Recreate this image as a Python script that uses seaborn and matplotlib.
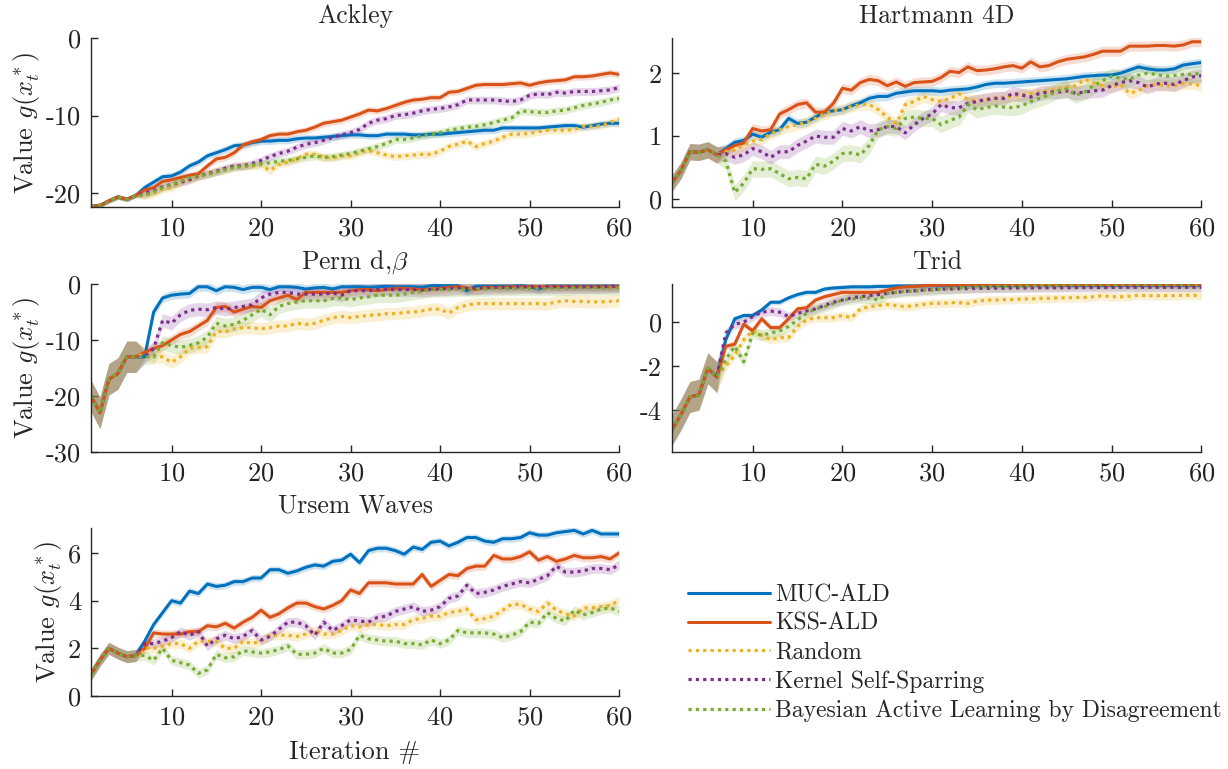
import numpy as np
import seaborn as sns
import matplotlib as mat

mat.use("Agg")

import matplotlib.pyplot as plt
from matplotlib.ticker import FuncFormatter


ITER = np.arange(1, 61)

METODOS = [
    "MUC-ALD",
    "KSS-ALD",
    "Random",
    "Kernel Self-Sparring",
    "Bayesian Active Learning by Disagreement",
]
CORES = ["#0072BD", "#D95319", "#EDB120", "#7E2F8E", "#77AC30"]

# --- Ackley ---------------------------------------------------------------
ackley_inicio = [-21.7, -21.6, -21.0, -20.5, -20.8, -20.3]
ackley_muc = [-19.3, -18.6, -17.9, -17.8, -17.3, -16.5, -16.0, -15.2, -14.8, -14.4,
              -13.9, -13.8, -13.5, -13.3, -13.3, -13.2, -13.2, -13.0, -12.9, -12.9,
              -12.8, -12.7, -12.6, -12.5, -12.5, -12.6, -12.6, -12.4, -12.4, -12.4,
              -12.5, -12.5, -12.4, -12.4, -12.3, -12.2, -12.1, -12.0, -11.9, -11.9,
              -11.6, -11.6, -11.6, -11.6, -11.6, -11.5, -11.4, -11.3, -11.3, -11.5,
              -11.3, -11.1, -11.0, -11.0]
ackley_kss_ald = [-19.6, -19.3, -18.5, -18.3, -18.0, -17.7, -17.5, -16.5, -15.6, -15.4,
                  -14.8, -13.8, -13.4, -13.1, -12.6, -12.4, -12.4, -12.1, -11.9, -11.5,
                  -11.0, -10.8, -10.6, -10.2, -9.8, -9.3, -9.4, -9.1, -8.7, -8.3,
                  -8.0, -7.9, -7.7, -7.7, -7.0, -6.9, -6.5, -6.1, -6.0, -6.0,
                  -6.0, -5.9, -5.8, -6.1, -5.8, -5.6, -5.5, -5.4, -5.0, -5.0,
                  -4.9, -4.7, -4.5, -4.7]
ackley_random = [-20.3, -20.1, -19.5, -19.3, -18.7, -18.3, -17.9, -17.5, -17.2, -17.0,
                 -16.6, -16.4, -16.5, -16.4, -17.1, -16.3, -16.0, -15.6, -15.0, -15.0,
                 -15.4, -15.5, -15.2, -15.2, -14.8, -14.5, -14.8, -15.1, -15.3, -15.2,
                 -15.1, -15.0, -15.0, -14.6, -14.0, -13.7, -13.3, -14.0, -13.6, -13.3,
                 -12.8, -12.4, -12.4, -12.3, -12.1, -11.9, -11.9, -11.9, -11.8, -11.4,
                 -11.4, -11.3, -10.9, -10.5]
ackley_kss = [-20.0, -19.7, -19.2, -18.9, -18.6, -18.3, -17.8, -17.5, -17.2, -16.8,
              -16.5, -16.5, -16.2, -15.8, -15.3, -14.9, -14.6, -14.1, -13.7, -13.5,
              -13.2, -12.8, -12.5, -12.2, -11.8, -11.0, -10.6, -10.4, -10.0, -9.9,
              -9.7, -9.4, -9.2, -9.1, -8.9, -8.6, -8.0, -8.0, -8.0, -8.0,
              -8.1, -8.2, -8.0, -7.4, -7.2, -7.3, -7.0, -7.1, -6.9, -6.9,
              -6.9, -6.8, -6.7, -6.4]
ackley_bald = [-20.3, -19.8, -19.3, -18.9, -18.5, -18.0, -17.8, -17.6, -17.3, -17.0,
               -16.7, -16.6, -16.4, -16.2, -16.1, -15.9, -15.8, -15.6, -15.4, -15.2,
               -15.4, -15.3, -15.1, -14.9, -14.6, -14.3, -14.0, -13.6, -13.1, -13.1,
               -12.9, -12.6, -12.4, -12.2, -11.9, -11.7, -11.5, -11.4, -11.2, -10.9,
               -10.6, -10.3, -9.4, -9.5, -9.6, -9.6, -9.4, -9.3, -9.0, -8.7,
               -8.5, -8.3, -8.0, -7.8]
ackley_faixa = [0.45, 0.45, 0.5, 0.5, 0.5]
ackley_faixa_inicio = 0.3

# --- Hartmann 4D ----------------------------------------------------------
hart_inicio = [0.25, 0.45, 0.75, 0.74, 0.78, 0.70]
hart_muc = [0.80, 0.90, 0.93, 1.03, 0.98, 1.06, 1.10, 1.28, 1.20, 1.22,
            1.30, 1.38, 1.40, 1.42, 1.48, 1.53, 1.60, 1.63, 1.63, 1.68,
            1.70, 1.72, 1.72, 1.72, 1.71, 1.73, 1.74, 1.75, 1.78, 1.82,
            1.84, 1.84, 1.85, 1.86, 1.87, 1.88, 1.89, 1.90, 1.91, 1.93,
            1.95, 1.96, 1.97, 1.97, 2.00, 2.05, 2.10, 2.07, 2.05, 2.05,
            2.07, 2.13, 2.15, 2.17]
hart_kss_ald = [0.78, 0.85, 0.89, 1.12, 1.08, 1.10, 1.35, 1.42, 1.50, 1.53,
                1.38, 1.38, 1.52, 1.76, 1.73, 1.85, 1.90, 1.88, 1.80, 1.86,
                1.79, 1.85, 1.86, 1.87, 1.93, 2.03, 2.01, 2.10, 2.04, 2.05,
                2.07, 2.10, 2.12, 2.08, 2.18, 2.10, 2.12, 2.18, 2.22, 2.24,
                2.26, 2.30, 2.35, 2.35, 2.35, 2.43, 2.43, 2.43, 2.44, 2.44,
                2.43, 2.45, 2.50, 2.50]
hart_random = [0.75, 0.78, 0.85, 0.92, 0.95, 1.03, 1.10, 1.15, 1.18, 1.22,
               1.28, 1.35, 1.40, 1.42, 1.47, 1.50, 1.50, 1.42, 1.30, 1.20,
               1.50, 1.55, 1.63, 1.58, 1.55, 1.60, 1.67, 1.58, 1.57, 1.58,
               1.60, 1.62, 1.63, 1.66, 1.68, 1.70, 1.72, 1.75, 1.78, 1.80,
               1.90, 1.85, 1.80, 1.78, 1.82, 1.68, 1.72, 1.80, 1.82, 1.80,
               1.80, 1.83, 1.83, 1.80]
hart_kss = [0.72, 0.66, 0.70, 0.80, 0.75, 0.66, 0.75, 0.75, 0.85, 0.92,
            1.00, 0.98, 0.98, 1.12, 1.08, 1.15, 1.08, 1.10, 1.15, 1.15,
            1.05, 1.18, 1.28, 1.35, 1.50, 1.45, 1.45, 1.52, 1.55, 1.58,
            1.60, 1.60, 1.68, 1.65, 1.62, 1.68, 1.70, 1.70, 1.72, 1.68,
            1.70, 1.72, 1.73, 1.80, 1.85, 1.88, 1.85, 1.78, 1.83, 1.84,
            1.82, 1.88, 1.94, 1.96]
hart_bald = [0.60, 0.10, 0.25, 0.48, 0.47, 0.48, 0.40, 0.32, 0.34, 0.32,
             0.55, 0.52, 0.60, 0.72, 0.73, 0.70, 0.85, 1.10, 1.15, 1.12,
             1.28, 1.30, 1.28, 1.28, 1.18, 1.25, 1.30, 1.50, 1.42, 1.45,
             1.48, 1.46, 1.45, 1.48, 1.55, 1.60, 1.65, 1.72, 1.75, 1.65,
             1.70, 1.80, 1.88, 1.95, 1.92, 1.90, 1.97, 2.00, 1.98, 1.95,
             1.96, 1.98, 1.98, 2.00]
hart_faixa = [0.07, 0.08, 0.09, 0.11, 0.13]
hart_faixa_inicio = 0.13

# --- Perm d,beta ----------------------------------------------------------
perm_inicio = [-20.0, -23.0, -17.0, -16.0, -13.0, -13.0]
perm_muc = [-13.0, -5.0, -2.5, -2.0, -1.8, -1.7, -0.5, -0.5, -1.2, -0.5,
            -0.6, -1.0, -0.6, -0.6, -1.0, -0.5, -0.5, -0.6, -0.9, -0.7,
            -0.6, -0.9, -0.5, -0.5, -0.5, -0.6, -0.5, -0.4, -0.5, -0.5,
            -0.5, -0.6, -0.3, -0.3, -0.3, -0.3, -1.2, -0.4, -0.4, -0.4,
            -0.4, -0.4, -0.3, -0.5, -0.9, -0.4, -0.4, -0.4, -0.4, -0.4,
            -0.4, -0.4, -0.4, -0.4]
perm_kss_ald = [-12.2, -11.5, -11.0, -10.0, -9.0, -8.5, -7.5, -6.5, -4.2, -4.0,
                -5.0, -4.5, -4.0, -4.2, -3.0, -2.5, -2.0, -2.8, -1.5, -1.5,
                -1.5, -1.5, -1.5, -1.2, -1.0, -1.0, -1.2, -1.0, -0.8, -0.8,
                -0.9, -1.0, -0.9, -0.8, -0.6, -0.5, -0.7, -1.0, -0.6, -0.6,
                -0.6, -0.5, -0.5, -0.5, -0.5, -0.5, -0.5, -0.5, -0.5, -0.5,
                -0.5, -0.5, -0.5, -0.5]
perm_random = [-12.5, -13.0, -13.0, -14.0, -13.0, -11.5, -11.3, -11.2, -8.5, -8.5,
               -8.0, -7.8, -7.8, -8.0, -7.8, -7.5, -7.5, -7.0, -7.2, -7.0,
               -6.5, -6.0, -5.8, -6.0, -5.8, -5.6, -5.5, -5.3, -5.3, -5.1,
               -5.0, -4.8, -4.5, -4.5, -5.2, -4.2, -3.8, -3.5, -3.5, -3.5,
               -3.5, -3.5, -3.5, -3.5, -3.5, -3.6, -3.2, -3.0, -3.1, -3.1,
               -3.2, -3.2, -3.1, -3.0]
perm_kss = [-13.0, -11.5, -6.5, -7.0, -5.5, -4.7, -4.5, -4.6, -4.2, -4.5,
            -4.2, -4.0, -3.7, -2.5, -1.8, -1.5, -1.5, -1.8, -1.8, -1.8,
            -1.8, -1.6, -2.0, -1.2, -1.2, -1.2, -1.0, -0.9, -1.0, -1.0,
            -1.0, -1.1, -1.0, -0.9, -0.8, -0.7, -0.8, -0.7, -0.7, -0.6,
            -0.6, -0.6, -0.5, -0.5, -0.5, -0.5, -0.5, -0.5, -0.5, -0.5,
            -0.5, -0.5, -0.4, -0.4]
perm_bald = [-13.0, -13.0, -10.5, -11.0, -11.3, -11.0, -10.5, -9.5, -7.0, -7.5,
             -7.2, -6.5, -5.5, -4.5, -5.5, -4.0, -3.5, -3.2, -3.0, -3.0,
             -3.0, -2.6, -2.5, -2.8, -2.5, -2.3, -2.0, -2.0, -2.0, -1.8,
             -1.5, -1.3, -1.0, -1.0, -1.0, -0.9, -0.9, -0.9, -0.9, -0.8,
             -0.8, -0.8, -0.8, -0.8, -0.8, -0.8, -0.8, -0.8, -0.7, -0.7,
             -0.7, -0.7, -0.7, -0.7]
perm_faixa = [0.8, 0.9, 1.1, 1.2, 1.3]
perm_faixa_inicio = 2.8

# --- Trid -----------------------------------------------------------------
trid_inicio = [-4.9, -4.2, -3.4, -3.3, -2.1, -2.5]
trid_muc = [-0.8, 0.15, 0.30, 0.30, 0.55, 0.90, 0.90, 1.10, 1.25, 1.35,
            1.35, 1.50, 1.55, 1.57, 1.60, 1.60, 1.60, 1.62, 1.62, 1.64,
            1.64, 1.64, 1.65, 1.65, 1.65, 1.65, 1.66, 1.66, 1.66, 1.66,
            1.66, 1.66, 1.66, 1.67, 1.67, 1.67, 1.67, 1.67, 1.67, 1.67,
            1.67, 1.67, 1.67, 1.67, 1.67, 1.67, 1.67, 1.67, 1.67, 1.67,
            1.67, 1.67, 1.67, 1.67]
trid_kss_ald = [-1.1, -1.0, -0.1, -0.4, 0.15, -0.25, -0.25, 0.15, 0.60, 0.65,
                1.00, 1.15, 1.25, 1.35, 1.35, 1.35, 1.35, 1.35, 1.45, 1.55,
                1.60, 1.62, 1.65, 1.67, 1.68, 1.68, 1.69, 1.69, 1.69, 1.70,
                1.70, 1.70, 1.70, 1.70, 1.70, 1.70, 1.70, 1.70, 1.70, 1.70,
                1.70, 1.70, 1.70, 1.70, 1.70, 1.70, 1.70, 1.70, 1.70, 1.70,
                1.70, 1.70, 1.70, 1.70]
trid_random = [-2.0, -1.5, -0.8, -0.4, -0.6, -0.8, -0.7, -0.7, -0.2, 0.1,
               0.2, 0.2, 0.2, 0.3, 0.2, 0.6, 0.7, 0.75, 0.8, 0.75,
               0.70, 0.75, 0.80, 0.85, 0.85, 0.88, 0.88, 0.85, 0.95, 1.00,
               1.00, 1.02, 1.02, 1.05, 1.05, 1.08, 1.08, 1.10, 1.10, 1.12,
               1.12, 1.15, 1.20, 1.15, 1.15, 1.18, 1.22, 1.20, 1.20, 1.20,
               1.20, 1.22, 1.22, 1.20]
trid_kss = [-0.5, -0.1, 0.0, 0.25, 0.45, 0.50, 0.45, 0.25, 0.40, 0.50,
            0.60, 0.75, 0.90, 1.00, 1.10, 1.15, 1.20, 1.25, 1.30, 1.35,
            1.40, 1.42, 1.45, 1.48, 1.50, 1.50, 1.52, 1.52, 1.53, 1.53,
            1.54, 1.54, 1.55, 1.55, 1.55, 1.56, 1.56, 1.56, 1.56, 1.57,
            1.57, 1.57, 1.57, 1.57, 1.58, 1.58, 1.58, 1.58, 1.58, 1.58,
            1.58, 1.58, 1.58, 1.58]
trid_bald = [-1.7, -1.1, -1.8, -0.5, -0.6, -0.5, -0.4, -0.2, 0.1, 0.4,
             0.6, 0.7, 0.85, 1.00, 1.05, 1.10, 1.10, 1.00, 1.30, 1.35,
             1.40, 1.40, 1.45, 1.45, 1.50, 1.52, 1.55, 1.58, 1.60, 1.60,
             1.62, 1.62, 1.63, 1.64, 1.65, 1.66, 1.67, 1.68, 1.68, 1.70,
             1.70, 1.70, 1.70, 1.70, 1.70, 1.70, 1.70, 1.70, 1.70, 1.70,
             1.70, 1.70, 1.70, 1.70]
trid_faixa = [0.12, 0.15, 0.2, 0.2, 0.25]
trid_faixa_inicio = 0.7

# --- Ursem Waves ----------------------------------------------------------
ursem_inicio = [0.9, 1.5, 2.0, 1.8, 1.65, 1.7]
ursem_muc = [2.3, 3.0, 3.5, 4.0, 3.9, 4.4, 4.3, 4.7, 4.6, 4.65,
             4.8, 4.8, 4.95, 4.95, 5.3, 5.3, 5.15, 5.25, 5.4, 5.5,
             5.45, 5.65, 5.7, 5.95, 5.6, 6.1, 6.2, 6.2, 6.1, 5.95,
             6.25, 6.15, 6.45, 6.5, 6.3, 6.45, 6.65, 6.65, 6.5, 6.45,
             6.6, 6.6, 6.65, 6.85, 6.75, 6.75, 6.85, 6.9, 6.95, 6.8,
             6.95, 6.8, 6.8, 6.8]
ursem_kss_ald = [2.0, 2.65, 2.6, 2.6, 2.6, 2.7, 2.7, 2.95, 2.9, 3.05,
                 2.85, 3.1, 3.3, 3.6, 3.3, 3.45, 3.7, 3.9, 3.9, 3.75,
                 3.65, 3.8, 4.0, 4.45, 4.3, 4.75, 4.75, 4.75, 4.7, 4.7,
                 4.7, 5.1, 4.6, 4.85, 5.1, 5.05, 5.35, 5.45, 5.45, 5.9,
                 5.75, 5.75, 5.85, 6.05, 5.7, 5.85, 5.65, 5.75, 5.9, 5.8,
                 5.8, 5.85, 5.75, 6.0]
ursem_random = [2.0, 2.0, 2.1, 2.2, 2.2, 2.0, 2.3, 2.3, 2.3, 2.0,
                2.0, 2.3, 2.2, 2.3, 2.55, 2.55, 2.55, 2.5, 2.6, 2.75,
                2.6, 2.6, 2.75, 2.95, 2.9, 3.0, 3.0, 2.95, 3.0, 3.0,
                3.2, 3.25, 3.35, 3.35, 3.5, 3.55, 3.65, 3.2, 3.25, 3.35,
                3.6, 3.85, 3.85, 3.65, 3.55, 3.9, 3.6, 3.45, 3.35, 3.7,
                3.7, 3.75, 3.8, 4.0]
ursem_kss = [2.2, 2.2, 2.3, 2.45, 2.7, 2.55, 2.7, 2.1, 2.4, 2.55,
             2.4, 2.5, 2.75, 2.35, 2.5, 2.8, 3.1, 3.1, 2.95, 2.55,
             3.1, 2.75, 2.95, 3.2, 3.15, 3.1, 3.3, 3.35, 3.55, 3.65,
             3.75, 3.55, 3.6, 3.75, 4.1, 4.2, 4.65, 4.3, 4.35, 4.45,
             4.6, 4.7, 4.8, 4.75, 4.9, 5.05, 5.45, 5.2, 5.2, 5.25,
             5.35, 5.35, 5.3, 5.5]
ursem_bald = [1.7, 1.5, 2.0, 1.5, 1.4, 1.3, 0.95, 1.1, 1.75, 1.6,
              1.65, 1.9, 1.85, 1.8, 1.85, 1.95, 2.1, 1.75, 1.75, 1.8,
              2.0, 1.8, 1.8, 1.95, 2.55, 2.4, 2.35, 2.3, 2.3, 2.2,
              2.2, 2.15, 2.35, 2.2, 2.35, 2.75, 2.65, 2.65, 2.65, 2.6,
              2.45, 2.55, 2.7, 3.1, 3.05, 3.5, 3.25, 3.15, 3.6, 3.4,
              3.5, 3.65, 3.7, 3.55]
ursem_faixa = [0.15, 0.17, 0.2, 0.2, 0.2]
ursem_faixa_inicio = 0.25

PAINEIS = [
    ("Ackley", ackley_inicio,
     [ackley_muc, ackley_kss_ald, ackley_random, ackley_kss, ackley_bald],
     ackley_faixa, ackley_faixa_inicio, (-21.8, 0), [-20, -10, 0]),
    ("Hartmann 4D", hart_inicio,
     [hart_muc, hart_kss_ald, hart_random, hart_kss, hart_bald],
     hart_faixa, hart_faixa_inicio, (-0.13, 2.56), [0, 1, 2]),
    (r"Perm d,$\beta$", perm_inicio,
     [perm_muc, perm_kss_ald, perm_random, perm_kss, perm_bald],
     perm_faixa, perm_faixa_inicio, (-30, 0), [-30, -20, -10, 0]),
    ("Trid", trid_inicio,
     [trid_muc, trid_kss_ald, trid_random, trid_kss, trid_bald],
     trid_faixa, trid_faixa_inicio, (-5.9, 1.73), [-4, -2, 0]),
    ("Ursem Waves", ursem_inicio,
     [ursem_muc, ursem_kss_ald, ursem_random, ursem_kss, ursem_bald],
     ursem_faixa, ursem_faixa_inicio, (0, 7.05), [0, 2, 4, 6]),
]

# posicoes [left, bottom, width, height] em fracao da figura
POSICOES = [
    [0.0741, 0.7308, 0.430, 0.2198],
    [0.5472, 0.7308, 0.431, 0.2198],
    [0.0741, 0.4122, 0.430, 0.2185],
    [0.5472, 0.4122, 0.431, 0.2185],
    [0.0741, 0.0949, 0.430, 0.2185],
]

ESTILOS = ["-", "-", (0, (1, 1.3)), (0, (1, 1.3)), (0, (1, 1.3))]
CINZA = "#262626"
N_INICIO = 6


def desenhar_painel(ax, titulo, inicio, series, faixa, faixa_inicio, ylim, yticks):
    for serie, cor, meia in zip(series, CORES, faixa):
        y = np.array(inicio + serie)
        meias = np.where(ITER <= N_INICIO, faixa_inicio, meia)
        ax.fill_between(ITER, y - meias, y + meias, color=cor, alpha=0.2, lw=0)
    for i, serie in enumerate(series):
        y = np.array(inicio + serie)
        sns.lineplot(x=ITER, y=y, ax=ax, color=CORES[i], linestyle=ESTILOS[i],
                     linewidth=2.2 if i < 2 else 2.3, label=METODOS[i],
                     legend=False)
    ax.set_xlim(1, 60)
    ax.set_ylim(*ylim)
    ax.set_xticks([10, 20, 30, 40, 50, 60])
    ax.set_yticks(yticks)
    ax.yaxis.set_major_formatter(FuncFormatter(lambda v, p: f"{v:g}"))
    ax.set_title(titulo, fontsize=18.5, pad=11)
    ax.set_xlabel("")
    ax.set_ylabel("")
    sns.despine(ax=ax)
    for lado in ["left", "bottom"]:
        ax.spines[lado].set_color(CINZA)
        ax.spines[lado].set_linewidth(1.0)
    ax.tick_params(direction="in", length=5, width=1.0, colors=CINZA,
                   labelsize=19, labelcolor="#222222", pad=7)


def main() -> None:
    sns.set_theme(style="ticks")
    plt.rcParams["font.family"] = ["cmr10", "DejaVu Serif"]
    plt.rcParams["mathtext.fontset"] = "cm"
    plt.rcParams["axes.unicode_minus"] = False
    plt.rcParams["axes.formatter.use_mathtext"] = True

    fig = plt.figure(figsize=(12.28, 7.69), dpi=100)
    eixos = []
    for painel, pos in zip(PAINEIS, POSICOES):
        ax = fig.add_axes(pos)
        desenhar_painel(ax, *painel)
        eixos.append(ax)

    for ax in [eixos[0], eixos[2], eixos[4]]:
        ax.set_ylabel(r"Value $g(x_t^*)$", fontsize=19, labelpad=3)
    eixos[4].set_xlabel("Iteration #", fontsize=19, labelpad=8)

    handles, labels = eixos[0].get_legend_handles_labels()
    mapa = dict(zip(labels, handles))
    fig.legend([mapa[m] for m in METODOS], METODOS, loc="center left",
               bbox_to_anchor=(0.560, 0.151), frameon=False, fontsize=17,
               handlelength=3.5, handletextpad=0.2, labelspacing=0.28,
               borderpad=0, borderaxespad=0)

    fig.savefig("out.png", dpi=100)
    plt.close(fig)


if __name__ == "__main__":
    main()
